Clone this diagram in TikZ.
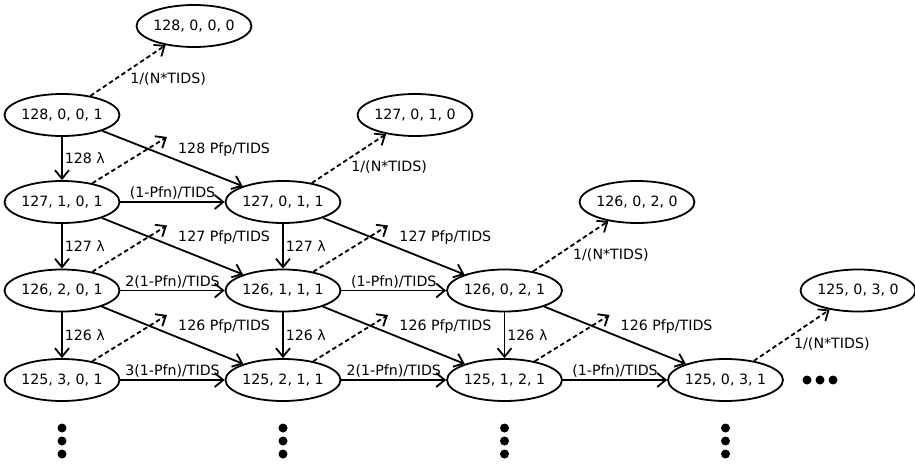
\documentclass[tikz,border=0pt]{standalone}
\usepackage{fontspec}
\setmainfont{DejaVu Sans}
\usetikzlibrary{arrows.meta,shapes.geometric,calc}
\begin{document}
\begin{tikzpicture}[x=1pt,y=-1pt,
  state/.style={ellipse,draw,line width=1.8pt,minimum width=109pt,minimum height=42pt,inner sep=0pt,font=\fontsize{14.2}{16}\selectfont},
  tr/.style={line width=1.8pt,-{Straight Barb[length=8.5pt,width=14pt]}},
  lost/.style={tr,dash pattern=on 4.5pt off 3pt},
  lbl/.style={font=\fontsize{14.2}{16}\selectfont,inner sep=2pt},
  vlbl/.style={lbl,right,midway},
  hlbl/.style={lbl,above,midway,inner sep=1.5pt},
  dlbl/.style={lbl,pos=0.52,anchor=south west},
  nlbl/.style={lbl,pos=0.5,anchor=north west,inner sep=1.5pt}
]
\useasboundingbox (0,0) rectangle (915,465);
% states
\node[state] (s1280000) at (194,26) {128, 0, 0, 0};
\node[state] (s1270010) at (415,115) {127, 0, 1, 0};
\node[state] (s1260020) at (637,202) {126, 0, 2, 0};
\node[state] (s1250030) at (858,290.5) {125, 0, 3, 0};
\node[state] (s1280001) at (62,115) {128, 0, 0, 1};
\node[state] (s1271001) at (62,202) {127, 1, 0, 1};
\node[state] (s1270011) at (283,202) {127, 0, 1, 1};
\node[state] (s1262001) at (62,290.5) {126, 2, 0, 1};
\node[state] (s1261011) at (283,290.5) {126, 1, 1, 1};
\node[state] (s1260021) at (504.5,290.5) {126, 0, 2, 1};
\node[state] (s1253001) at (62,380) {125, 3, 0, 1};
\node[state] (s1252011) at (283,380) {125, 2, 1, 1};
\node[state] (s1251021) at (504.5,380) {125, 1, 2, 1};
\node[state] (s1250031) at (725.5,380) {125, 0, 3, 1};
% vertical
\draw[tr] (s1280001) -- node[vlbl] {128 λ} (s1271001);
\draw[tr] (s1271001) -- node[vlbl] {127 λ} (s1262001);
\draw[tr] (s1262001) -- node[vlbl] {126 λ} (s1253001);
\draw[tr] (s1270011) -- node[vlbl] {127 λ} (s1261011);
\draw[tr] (s1261011) -- node[vlbl] {126 λ} (s1252011);
\draw[tr] (s1260021) -- node[vlbl] {126 λ} (s1251021);
% horizontal
\draw[tr] (s1271001) -- node[hlbl] {(1-Pfn)/TIDS} (s1270011);
\draw[tr] (s1262001) -- node[hlbl] {2(1-Pfn)/TIDS} (s1261011);
\draw[tr] (s1261011) -- node[hlbl] {(1-Pfn)/TIDS} (s1260021);
\draw[tr] (s1253001) -- node[hlbl] {3(1-Pfn)/TIDS} (s1252011);
\draw[tr] (s1252011) -- node[hlbl] {2(1-Pfn)/TIDS} (s1251021);
\draw[tr] (s1251021) -- node[hlbl] {(1-Pfn)/TIDS} (s1250031);
% diagonal
\draw[tr] (s1280001) -- node[dlbl] {128 Pfp/TIDS} (s1270011);
\draw[tr] (s1271001) -- node[dlbl] {127 Pfp/TIDS} (s1261011);
\draw[tr] (s1270011) -- node[dlbl] {127 Pfp/TIDS} (s1260021);
\draw[tr] (s1262001) -- node[dlbl] {126 Pfp/TIDS} (s1252011);
\draw[tr] (s1261011) -- node[dlbl] {126 Pfp/TIDS} (s1251021);
\draw[tr] (s1260021) -- node[dlbl] {126 Pfp/TIDS} (s1250031);
% dashed to absorbing states
\draw[lost] (s1280001) -- node[nlbl] {1/(N*TIDS)} (s1280000);
\draw[lost] (s1270011) -- node[nlbl] {1/(N*TIDS)} (s1270010);
\draw[lost] (s1260021) -- node[nlbl] {1/(N*TIDS)} (s1260020);
\draw[lost] (s1250031) -- node[nlbl] {1/(N*TIDS)} (s1250030);
% dashed free ends
\coordinate (f1) at ($(s1271001)+(105,-65)$);
\coordinate (f2) at ($(s1262001)+(105,-65)$);
\coordinate (f3) at ($(s1253001)+(105,-65)$);
\coordinate (f4) at ($(s1261011)+(105,-65)$);
\coordinate (f5) at ($(s1252011)+(105,-65)$);
\coordinate (f6) at ($(s1251021)+(105,-65)$);
\draw[lost] (s1271001) -- (f1);
\draw[lost] (s1262001) -- (f2);
\draw[lost] (s1253001) -- (f3);
\draw[lost] (s1261011) -- (f4);
\draw[lost] (s1252011) -- (f5);
\draw[lost] (s1251021) -- (f6);
% ellipsis dots
\foreach \n in {s1253001,s1252011,s1251021,s1250031}{
  \foreach \dy in {48,61,74}{
    \fill ($(\n)+(0,\dy)$) circle[radius=4.5pt];
  }
}
\foreach \dx in {81.5,94.5,107.5}{
  \fill ($(s1250031)+(\dx,0)$) circle[radius=4.5pt];
}
\end{tikzpicture}
\end{document}
